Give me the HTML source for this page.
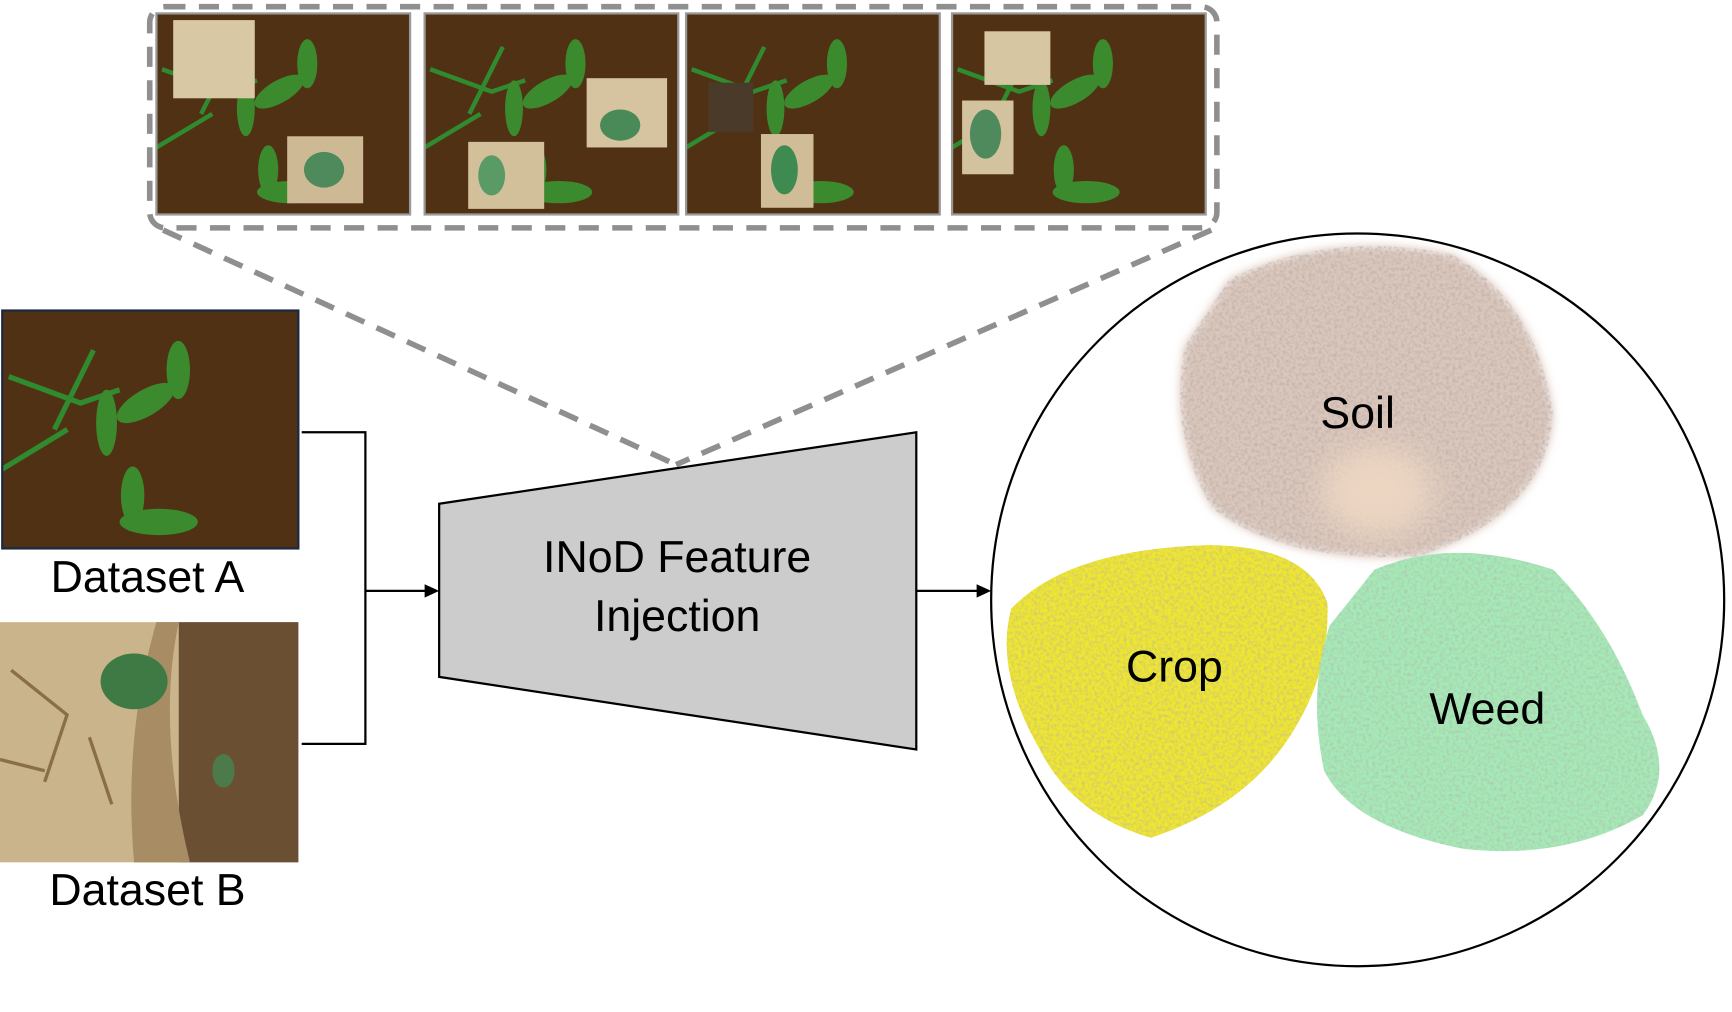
<!DOCTYPE html>
<html><head><meta charset="utf-8"><style>
html,body{margin:0;padding:0;background:#fff;width:1732px;height:1012px;overflow:hidden}
svg{display:block}
text{font-family:"Liberation Sans",sans-serif;fill:#000}
</style></head><body>
<svg width="1732" height="1012" viewBox="0 0 1550 906" preserveAspectRatio="none" xmlns="http://www.w3.org/2000/svg">
<defs>
<filter id="speck" x="0" y="0" width="100%" height="100%">
<feTurbulence type="fractalNoise" baseFrequency="0.35" numOctaves="2" seed="3"/>
<feColorMatrix values="0 0 0 0 0.45  0 0 0 0 0.42  0 0 0 0 0.42  0 0 0 -2.2 1.35"/>
<feComposite in2="SourceGraphic" operator="in"/>
</filter>
<filter id="blur" x="-50%" y="-50%" width="200%" height="200%"><feGaussianBlur stdDeviation="14"/></filter>
<filter id="soft" x="-10%" y="-10%" width="120%" height="120%"><feGaussianBlur stdDeviation="4"/></filter>
<g id="photo">
<rect width="227" height="180" fill="#4b2d12"/>
<rect width="227" height="180" fill="#5a3716" opacity="0.4"/>
<path d="M5 50 L60 70 L90 60 M40 90 L70 30 M0 120 L50 90" stroke="#2f8a30" stroke-width="4" fill="none"/>
<ellipse cx="110" cy="70" rx="25" ry="10" fill="#3b8a2e" transform="rotate(-30 110 70)"/>
<ellipse cx="80" cy="85" rx="8" ry="25" fill="#3b8a2e"/>
<ellipse cx="135" cy="45" rx="9" ry="22" fill="#3b8a2e"/>
<ellipse cx="120" cy="160" rx="30" ry="10" fill="#3b8a2e"/>
<ellipse cx="100" cy="140" rx="9" ry="22" fill="#3b8a2e"/>
</g>
</defs>

<rect x="134" y="6" width="955" height="198" rx="14" fill="none" stroke="#8f8f8f" stroke-width="5" stroke-dasharray="18 12"/>
<line x1="146" y1="206" x2="605" y2="416" stroke="#8f8f8f" stroke-width="5" stroke-dasharray="18 12"/>
<line x1="1084" y1="206" x2="605" y2="416" stroke="#8f8f8f" stroke-width="5" stroke-dasharray="18 12"/>

<g transform="translate(140,12)"><use href="#photo"/><rect x="15" y="6" width="73" height="70" fill="#d9c8a4"/><rect x="117" y="110" width="68" height="60" fill="#cdb993"/><ellipse cx="150" cy="140" rx="18" ry="16" fill="#4f8a5c"/></g>
<g transform="translate(380,12)"><use href="#photo"/><rect x="145" y="58" width="72" height="62" fill="#d6c4a0"/><ellipse cx="175" cy="100" rx="18" ry="14" fill="#4a8a58"/><rect x="39" y="115" width="68" height="60" fill="#d2c09b"/><ellipse cx="60" cy="145" rx="12" ry="18" fill="#5a9a64"/></g>
<g transform="translate(614,12)"><use href="#photo"/><rect x="20" y="62" width="40" height="44" fill="#4a3a2a"/><rect x="67" y="108" width="47" height="66" fill="#d0bc96"/><ellipse cx="88" cy="140" rx="12" ry="22" fill="#3f8a50"/></g>
<g transform="translate(852,12)"><use href="#photo"/><rect x="29" y="16" width="59" height="48" fill="#d6c6a2"/><rect x="9" y="78" width="46" height="66" fill="#d2c29e"/><ellipse cx="30" cy="108" rx="14" ry="22" fill="#4f8a5c"/></g>
<rect x="140" y="12" width="227" height="180" fill="none" stroke="#999" stroke-width="2"/>
<rect x="380" y="12" width="227" height="180" fill="none" stroke="#999" stroke-width="2"/>
<rect x="614" y="12" width="227" height="180" fill="none" stroke="#999" stroke-width="2"/>
<rect x="852" y="12" width="227" height="180" fill="none" stroke="#999" stroke-width="2"/>

<g transform="translate(2,278) scale(1.167,1.183)"><use href="#photo"/></g>
<rect x="2" y="278" width="265" height="213" fill="none" stroke="#1b2a44" stroke-width="2"/>
<rect x="0" y="557" width="267" height="215" fill="#c9b48c"/>
<rect x="160" y="557" width="107" height="215" fill="#6b4f33"/>
<path d="M160 557 Q140 650 170 772 L120 772 Q110 660 140 557Z" fill="#a88c64"/>
<path d="M10 600 L60 640 L40 700 M80 660 L100 720 M0 680 L40 690" stroke="#8a6e4a" stroke-width="3" fill="none"/>
<ellipse cx="120" cy="610" rx="30" ry="25" fill="#3f7a44"/>
<ellipse cx="200" cy="690" rx="10" ry="15" fill="#4d7a4a"/>

<text x="132" y="530" font-size="40" text-anchor="middle">Dataset A</text>
<text x="132" y="810" font-size="40" text-anchor="middle">Dataset B</text>

<polyline points="270,387 327,387 327,666 270,666" fill="none" stroke="#000" stroke-width="2"/>
<line x1="327" y1="529" x2="383" y2="529" stroke="#000" stroke-width="2"/>
<polygon points="393,529 380,523 380,535" fill="#000"/>
<polygon points="393,451 820,387 820,671 393,606" fill="#cccccc" stroke="#000" stroke-width="2"/>
<text x="606" y="512" font-size="40" text-anchor="middle">INoD Feature</text>
<text x="606" y="565" font-size="40" text-anchor="middle">Injection</text>
<line x1="820" y1="529" x2="877" y2="529" stroke="#000" stroke-width="2"/>
<polygon points="887,529 874,523 874,535" fill="#000"/>

<ellipse cx="1215" cy="537" rx="328" ry="328" fill="#fff" stroke="#000" stroke-width="2"/>
<g filter="url(#soft)">
<path d="M1100 250 Q1190 205 1300 228 Q1375 270 1390 370 Q1385 460 1270 498 Q1150 505 1085 455 Q1045 390 1060 310Z" fill="#dcc6ba"/>
</g>
<path d="M1100 250 Q1190 205 1300 228 Q1375 270 1390 370 Q1385 460 1270 498 Q1150 505 1085 455 Q1045 390 1060 310Z" fill="#fff" filter="url(#speck)" opacity="0.7"/>
<ellipse cx="1232" cy="440" rx="50" ry="40" fill="#ecd6c2" filter="url(#blur)"/>
<path d="M905 545 Q955 492 1080 488 Q1170 488 1188 540 Q1190 600 1160 650 Q1120 720 1030 750 Q960 730 930 670 Q890 600 905 545Z" fill="#efe630"/>
<path d="M905 545 Q955 492 1080 488 Q1170 488 1188 540 Q1190 600 1160 650 Q1120 720 1030 750 Q960 730 930 670 Q890 600 905 545Z" fill="#efe630" filter="url(#speck)" opacity="0.5"/>
<path d="M1230 510 Q1300 480 1390 510 Q1440 560 1470 640 Q1500 690 1470 730 Q1400 770 1310 760 Q1210 740 1185 690 Q1170 620 1190 560Z" fill="#a5eab6"/>
<path d="M1230 510 Q1300 480 1390 510 Q1440 560 1470 640 Q1500 690 1470 730 Q1400 770 1310 760 Q1210 740 1185 690 Q1170 620 1190 560Z" fill="#a5eab6" filter="url(#speck)" opacity="0.5"/>
<text x="1215" y="383" font-size="40" text-anchor="middle">Soil</text>
<text x="1051" y="610" font-size="40" text-anchor="middle">Crop</text>
<text x="1331" y="648" font-size="40" text-anchor="middle">Weed</text>
</svg>
</body></html>
